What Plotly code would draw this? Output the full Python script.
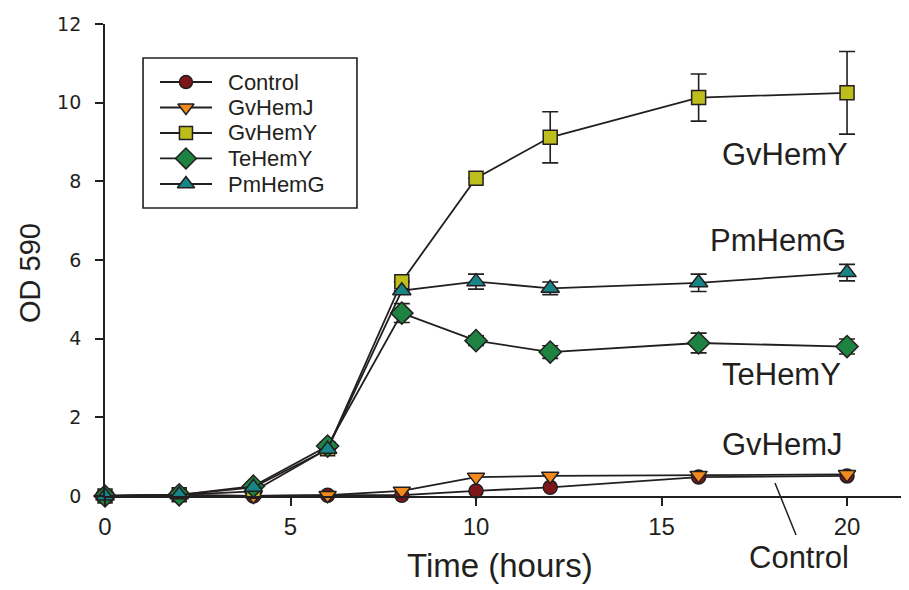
import plotly.graph_objects as go

time_h = [0, 2, 4, 6, 8, 10, 12, 16, 20]

control = [0.0, 0.02, 0.0, 0.02, 0.02, 0.13, 0.22, 0.48, 0.51]
gvhemj = [0.0, 0.02, 0.0, 0.02, 0.13, 0.48, 0.51, 0.53, 0.55]
gvhemy = [0.0, 0.03, 0.12, 1.2, 5.45, 8.08, 9.12, 10.13, 10.25]
tehemy = [0.0, 0.03, 0.25, 1.27, 4.65, 3.95, 3.66, 3.89, 3.80]
pmhemg = [0.0, 0.03, 0.22, 1.19, 5.22, 5.45, 5.28, 5.42, 5.68]

gvhemy_err = [None, None, None, None, None, None, 0.65, 0.6, 1.05]
tehemy_err = [None, None, None, None, 0.24, 0.12, 0.16, 0.25, 0.19]
pmhemg_err = [None, None, None, None, None, 0.19, 0.16, 0.22, 0.21]

x_ticks = [0, 5, 10, 15, 20]
y_ticks = [0, 2, 4, 6, 8, 10, 12]

series_names = ["Control", "GvHemJ", "GvHemY", "TeHemY", "PmHemG"]
series_vals = [control, gvhemj, gvhemy, tehemy, pmhemg]
series_err = [None, None, gvhemy_err, tehemy_err, pmhemg_err]
series_symbols = ["circle", "triangle-down", "square", "diamond", "triangle-up"]
series_colors = ["#7E1518", "#F28A1C", "#BDBD1C", "#1E8340", "#178585"]
series_sizes = [14, 15, 14, 17, 16]

DARK = "#231F20"
FONT = "Liberation Sans, Arial, sans-serif"
WIDE = "DejaVu Sans, sans-serif"

fig = go.Figure()
for name, vals, err, sym, col, sz in zip(series_names, series_vals, series_err,
                                         series_symbols, series_colors, series_sizes):
    kw = {}
    if err is not None:
        kw["error_y"] = dict(type="data", array=err, visible=True,
                             color=DARK, thickness=1.6, width=8)
    fig.add_trace(go.Scatter(
        x=time_h, y=vals, name=name, mode="lines+markers",
        line=dict(color=DARK, width=1.8),
        marker=dict(symbol=sym, size=sz, color=col,
                    line=dict(color=DARK, width=1.5)),
        cliponaxis=False, showlegend=False, **kw))

# ---- manual legend (overlay axes spanning 0..1 like paper coords) ----
leg_x0, leg_x1, leg_y0, leg_y1 = 0.0473, 0.3134, 0.6102, 0.928
leg_rows = [0.8771, 0.8231, 0.7691, 0.7151, 0.6610]
line_l, line_r, mark_x, text_x = 0.0684, 0.1331, 0.1007, 0.1505
fig.add_shape(type="rect", xref="paper", yref="paper", x0=leg_x0, x1=leg_x1,
              y0=leg_y0, y1=leg_y1, line=dict(color=DARK, width=1.6),
              fillcolor="white", layer="below")
for name, sym, col, sz, ry in zip(series_names, series_symbols, series_colors,
                                  series_sizes, leg_rows):
    fig.add_shape(type="line", xref="paper", yref="paper", x0=line_l, x1=line_r,
                  y0=ry, y1=ry, line=dict(color=DARK, width=1.8), layer="below")
    fig.add_trace(go.Scatter(
        x=[mark_x], y=[ry], xaxis="x2", yaxis="y2", mode="markers",
        marker=dict(symbol=sym, size=sz - 1, color=col,
                    line=dict(color=DARK, width=1.5)),
        showlegend=False, hoverinfo="skip", cliponaxis=False))
    fig.add_annotation(xref="paper", yref="paper", x=text_x, y=ry, text=name,
                       showarrow=False, xanchor="left", yanchor="middle",
                       font=dict(family=FONT, size=22, color=DARK))

labels = [("GvHemY", 20.08, 8.68), ("PmHemG", 20.03, 6.5),
          ("TeHemY", 19.9, 3.08), ("GvHemJ", 19.95, 1.30)]
for txt, x, y in labels:
    fig.add_annotation(x=x, y=y, text=txt, showarrow=False, xanchor="right",
                       yanchor="middle", font=dict(family=FONT, size=31, color=DARK))
fig.add_annotation(xref="paper", yref="paper", x=0.863, y=-0.131, text="Control",
                   showarrow=False, xanchor="center", yanchor="middle",
                   font=dict(family=FONT, size=31, color=DARK))
fig.add_shape(type="line", xref="paper", yref="paper", x0=0.8333, y0=0.0275,
              x1=0.8595, y1=-0.0826, line=dict(color=DARK, width=1.5))

# axis titles placed as text to match the reference position
fig.add_annotation(xref="paper", yref="paper", x=0.491, y=-0.148, text="Time (hours)",
                   showarrow=False, xanchor="center", yanchor="middle",
                   font=dict(family=FONT, size=33, color=DARK))
fig.add_annotation(xref="paper", yref="paper", x=-0.0933, y=0.4725, text="OD 590",
                   showarrow=False, xanchor="center", yanchor="middle", textangle=-90,
                   font=dict(family=FONT, size=29, color=DARK))

fig.update_layout(
    width=901, height=582,
    margin=dict(l=97, r=0, t=16, b=94),
    plot_bgcolor="white", paper_bgcolor="white",
    font=dict(family=FONT, color=DARK),
    showlegend=False,
    xaxis=dict(range=[0, 21.67], showline=True, linecolor=DARK, linewidth=1.8,
               ticks="outside", ticklen=8, tickwidth=1.5, tickcolor=DARK,
               tickvals=x_ticks, showgrid=False, zeroline=False,
               tickfont=dict(family=FONT, size=24, color=DARK),
               ticklabelstandoff=0),
    yaxis=dict(range=[0, 12], showline=True, linecolor=DARK, linewidth=1.8,
               ticks="outside", ticklen=8, tickwidth=1.5, tickcolor=DARK,
               tickvals=y_ticks, showgrid=False, zeroline=False,
               tickfont=dict(family=WIDE, size=19, color=DARK),
               ticklabelstandoff=10),
    xaxis2=dict(range=[0, 1], overlaying="x", anchor="y2", visible=False,
                fixedrange=True),
    yaxis2=dict(range=[0, 1], overlaying="y", anchor="x2", visible=False,
                fixedrange=True),
)

fig.write_html("out.html")
